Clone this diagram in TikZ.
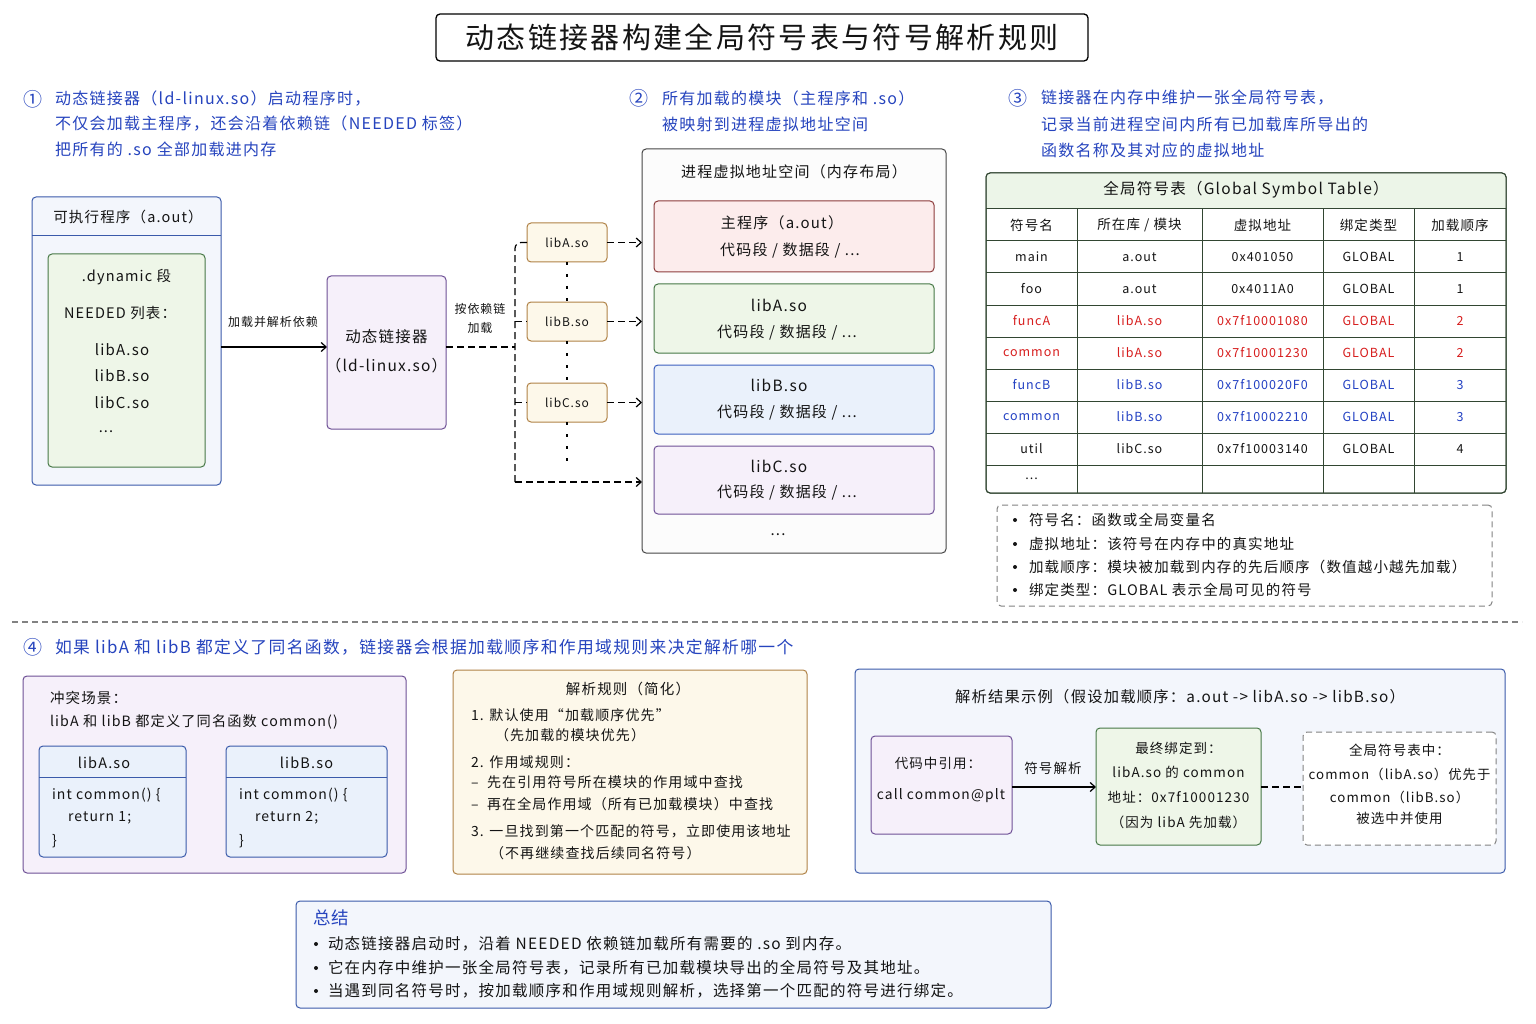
\documentclass[tikz,border=0pt]{standalone}
\usepackage{fontspec}
\setmainfont{Noto Sans CJK SC}[LetterSpace=8]
\usetikzlibrary{arrows.meta,calc}
\newcommand\fsz[1]{\fontsize{#1}{#1}\selectfont}
\definecolor{btxt}{RGB}{38,68,190}
\definecolor{execB}{RGB}{58,90,170}
\definecolor{execF}{RGB}{243,246,252}
\definecolor{grnB}{RGB}{70,120,70}
\definecolor{grnF}{RGB}{238,246,232}
\definecolor{purB}{RGB}{110,80,150}
\definecolor{purF}{RGB}{246,240,250}
\definecolor{tanB}{RGB}{176,130,70}
\definecolor{tanF}{RGB}{253,248,234}
\definecolor{redB}{RGB}{140,60,60}
\definecolor{redF}{RGB}{252,236,236}
\definecolor{bluB}{RGB}{60,95,190}
\definecolor{bluF}{RGB}{234,241,251}
\definecolor{memB}{RGB}{70,70,70}
\definecolor{memF}{RGB}{252,252,252}
\definecolor{tblB}{RGB}{50,70,50}
\definecolor{tblH}{RGB}{236,245,232}
\definecolor{grayB}{RGB}{130,130,130}
\definecolor{tred}{RGB}{215,30,30}
\definecolor{tblue}{RGB}{35,65,195}
\definecolor{txt}{RGB}{20,20,20}
\tikzset{
  every node/.style={inner sep=0pt, outer sep=0pt, text=txt},
  box/.style={draw, rounded corners=4pt, line width=1pt},
  arr/.style={-{Straight Barb[length=5pt,width=9pt]}, line width=1.2pt, draw=black},
  dsh/.style={dash pattern=on 7pt off 4pt, line width=1.2pt, draw=black},
  dotl/.style={dash pattern=on 3pt off 9pt, line width=1.3pt, draw=black},
  ann/.style={font=\fsz{16}, text=btxt, anchor=west},
  circ/.style={font=\fsz{19}, text=btxt},
  lt/.style={anchor=west},
  bul/.style={circle, fill=txt, minimum size=4pt},
}
\begin{document}
\begin{tikzpicture}[x=1pt,y=-1pt]
\useasboundingbox[fill=white] (0,0) rectangle (1536,1024);

% ---------- title ----------
\node[box, draw=black, fill=white, line width=1.3pt, minimum width=652pt, minimum height=47pt] (title) at (762,37.5) {};
\node[font=\fsz{29}] (titletxt) at (762,37.5) {动态链接器构建全局符号表与符号解析规则};

% ---------- annotations ----------
\node[circ] (c1) at (33,99) {①};
\node[ann] (a1a) at (55,99) {动态链接器（ld-linux.so）启动程序时，};
\node[ann] (a1b) at (55,124) {不仅会加载主程序，还会沿着依赖链（NEEDED 标签）};
\node[ann] (a1c) at (55,149) {把所有的 .so 全部加载进内存};
\node[circ] (c2) at (639,98) {②};
\node[ann] (a2a) at (662,98) {所有加载的模块（主程序和 .so）};
\node[ann] (a2b) at (662,124) {被映射到进程虚拟地址空间};
\node[circ] (c3) at (1018,98) {③};
\node[ann] (a3a) at (1041,98) {链接器在内存中维护一张全局符号表，};
\node[ann] (a3b) at (1041,124) {记录当前进程空间内所有已加载库所导出的};
\node[ann] (a3c) at (1041,150) {函数名称及其对应的虚拟地址};

% ---------- executable ----------
\node[box, draw=execB, fill=execF, minimum width=189pt, minimum height=288pt] (exec) at (126.5,341) {};
\draw[execB, line width=1pt] (exec.west |- 0,236) -- (exec.east |- 0,236);
\node[font=\fsz{14.5}] (exech) at (128,217) {可执行程序（a.out）};
\node[box, draw=grnB, fill=grnF, minimum width=157pt, minimum height=213pt] (dyn) at (126.5,360.5) {};
\node[font=\fsz{14.5}] (dyn1) at (126.5,277) {.dynamic 段};
\node[font=\fsz{14.5}, lt] (dyn2) at (64,313) {NEEDED 列表：};
\node[font=\fsz{15}] (dyn3) at (122,350) {libA.so};
\node[font=\fsz{15}] (dyn4) at (122,376) {libB.so};
\node[font=\fsz{15}] (dyn5) at (122,403) {libC.so};
\node[font=\fsz{14.5}] (dyn6) at (106,432) {...};

% ---------- ld-linux ----------
\node[box, draw=purB, fill=purF, minimum width=119pt, minimum height=153pt] (ld) at (386.5,352.5) {};
\node[font=\fsz{15.5}] (ld1) at (386.5,337) {动态链接器};
\node[font=\fsz{15.5}] (ld2) at (386.5,366) {（ld-linux.so）};
\coordinate (ya) at (0,347);
\draw[arr] (exec.east |- ya) -- (ld.west |- ya);
\node[font=\fsz{12}] (lab1) at (273,322) {加载并解析依赖};

% ---------- small lib boxes ----------
\node[box, draw=tanB, fill=tanF, minimum width=80pt, minimum height=39pt, font=\fsz{12}] (sA) at (567,242.5) {libA.so};
\node[box, draw=tanB, fill=tanF, minimum width=80pt, minimum height=39pt, font=\fsz{12}] (sB) at (567,321.5) {libB.so};
\node[box, draw=tanB, fill=tanF, minimum width=80pt, minimum height=39pt, font=\fsz{12}] (sC) at (567,402.5) {libC.so};
\node[font=\fsz{12}] (lab2a) at (480,309) {按依赖链};
\node[font=\fsz{12}] (lab2b) at (480,328) {加载};
\coordinate (bx) at (515,347);
\coordinate (bot) at (515,482);
\draw[dsh] (ld.east |- ya) -- (bx);

% ---------- memory ----------
\node[box, draw=memB, fill=memF, minimum width=304pt, minimum height=404pt] (mem) at (794,351) {};
\node[font=\fsz{15}] (memt) at (794,172) {进程虚拟地址空间（内存布局）};
\node[box, draw=redB, fill=redF, minimum width=280pt, minimum height=71pt] (mMain) at (794,236.5) {};
\node[box, draw=grnB, fill=grnF, minimum width=280pt, minimum height=69pt] (mA) at (794,318.5) {};
\node[box, draw=bluB, fill=bluF, minimum width=280pt, minimum height=69pt] (mB) at (794,399.5) {};
\node[box, draw=purB, fill=purF, minimum width=280pt, minimum height=68pt] (mC) at (794,480) {};
\node[font=\fsz{15}] (mm1) at (782,223) {主程序（a.out）};
\node[font=\fsz{15}] (mm2) at (790,250) {代码段\ /\ 数据段\ /\ ...};
\node[font=\fsz{15.5}] (ma1) at (779,305) {libA.so};
\node[font=\fsz{15}] (ma2) at (787,332) {代码段\ /\ 数据段\ /\ ...};
\node[font=\fsz{15.5}] (mb1) at (779,385) {libB.so};
\node[font=\fsz{15}] (mb2) at (787,412) {代码段\ /\ 数据段\ /\ ...};
\node[font=\fsz{15.5}] (mc1) at (779,466) {libC.so};
\node[font=\fsz{15}] (mc2) at (787,492) {代码段\ /\ 数据段\ /\ ...};
\node[font=\fsz{15}] (mdots) at (778,535) {...};

% connectors lib -> memory
\draw[dsh, rounded corners=6pt] (sA.west) -| (bot);
\draw[dsh, -{Straight Barb[length=5pt,width=9pt]}] (bot) -- (mem.west |- bot);
\draw[dsh] (515,321.5) -- (sB.west);
\draw[dsh] (515,402.5) -- (sC.west);
\draw[dsh, -{Straight Barb[length=5pt,width=9pt]}] (sA.east) -- (mem.west |- sA.east);
\draw[dsh, -{Straight Barb[length=5pt,width=9pt]}] (sB.east) -- (mem.west |- sB.east);
\draw[dsh, -{Straight Barb[length=5pt,width=9pt]}] (sC.east) -- (mem.west |- sC.east);
\draw[dotl] (sA.south) -- (sB.north);
\draw[dotl] (sB.south) -- (sC.north);
\coordinate (cend) at (567,466);
\draw[dotl] (sC.south) -- (cend);

% ---------- symbol table ----------
\node[box, draw=tblB, fill=white, minimum width=520pt, minimum height=320pt] (tbl) at (1246,333) {};
\fill[tblH] (986.5,209) {[rounded corners=4pt] -- (986.5,173.5) -- (1505.5,173.5)} -- (1505.5,209) -- cycle;
\draw[tblB, rounded corners=4pt, line width=1pt] (986,173) rectangle (1506,493);
\foreach \yy in {209,241,273,305,337,369,401,433,465} {\draw[tblB, line width=1pt] (986,\yy) -- (1506,\yy);}
\foreach \xx in {1077,1202,1323,1414} {\draw[tblB, line width=1pt] (\xx,209) -- (\xx,493);}
\node[font=\fsz{15.5}] (tblt) at (1246,190) {全局符号表（Global Symbol Table）};
\node[font=\fsz{13.5}] (h1) at (1031.5,225) {符号名};
\node[font=\fsz{13.5}] (h2) at (1139.5,225) {所在库\ /\ 模块};
\node[font=\fsz{13.5}] (h3) at (1262.5,225) {虚拟地址};
\node[font=\fsz{13.5}] (h4) at (1368.5,225) {绑定类型};
\node[font=\fsz{13.5}] (h5) at (1460,225) {加载顺序};
\foreach \r/\yy/\cl/\va/\vb/\vc/\vd/\ve in {
  1/257/txt/main/a.out/0x401050/GLOBAL/1,
  2/289/txt/foo/a.out/0x4011A0/GLOBAL/1,
  3/321/tred/funcA/libA.so/0x7f10001080/GLOBAL/2,
  4/353/tred/common/libA.so/0x7f10001230/GLOBAL/2,
  5/385/tblue/funcB/libB.so/0x7f100020F0/GLOBAL/3,
  6/417/tblue/common/libB.so/0x7f10002210/GLOBAL/3,
  7/449/txt/util/libC.so/0x7f10003140/GLOBAL/4} {
  \node[font=\fsz{12.5}, text=\cl] (r\r a) at (1031.5,\yy) {\va};
  \node[font=\fsz{12.5}, text=\cl] (r\r b) at (1139.5,\yy) {\vb};
  \node[font=\fsz{12.5}, text=\cl] (r\r c) at (1262.5,\yy) {\vc};
  \node[font=\fsz{12.5}, text=\cl] (r\r d) at (1368.5,\yy) {\vd};
  \node[font=\fsz{12.5}, text=\cl] (r\r e) at (1460,\yy) {\ve};
}
\node[font=\fsz{12.5}] (r8a) at (1031.5,479) {...};

% ---------- legend ----------
\node[box, draw=grayB, dash pattern=on 6pt off 4pt, fill=white, minimum width=495pt, minimum height=101pt] (leg) at (1244.5,555.5) {};
\foreach \i/\yy/\tt in {1/520/符号名：函数或全局变量名, 2/544/虚拟地址：该符号在内存中的真实地址, 3/567/加载顺序：模块被加载到内存的先后顺序（数值越小越先加载）, 4/590/绑定类型：GLOBAL 表示全局可见的符号} {
  \node[bul] (lb\i) at (1015,\yy) {};
  \node[font=\fsz{14.5}, lt] (lg\i) at (1029,\yy) {\tt};
}

% ---------- separator ----------
\coordinate (sepl) at (12,622);
\coordinate (sepr) at (1522,622);
\draw[grayB, dash pattern=on 6pt off 4pt, line width=1.1pt] (sepl) -- (sepr);
\node[circ] (c4) at (33,647) {④};
\node[ann, font=\fsz{16.8}] (a4) at (55,647) {如果 libA 和 libB 都定义了同名函数，链接器会根据加载顺序和作用域规则来决定解析哪一个};

% ---------- conflict ----------
\node[box, draw=purB, fill=purF, minimum width=383pt, minimum height=197pt] (conf) at (214.5,774.5) {};
\node[font=\fsz{14.5}, lt] (cf1) at (50,698) {冲突场景：};
\node[font=\fsz{14.2}, lt] (cf2) at (50,722) {libA 和 libB 都定义了同名函数 common()};
\node[box, draw=execB, fill=bluF, minimum width=147pt, minimum height=111pt] (cA) at (112.5,801.5) {};
\node[box, draw=execB, fill=bluF, minimum width=161pt, minimum height=111pt] (cB) at (306.5,801.5) {};
\draw[execB, line width=1pt] (cA.west |- 0,777) -- (cA.east |- 0,777);
\draw[execB, line width=1pt] (cB.west |- 0,777) -- (cB.east |- 0,777);
\node[font=\fsz{14.5}] (cAh) at (104,763) {libA.so};
\node[font=\fsz{14.5}] (cBh) at (306.5,763) {libB.so};
\node[font=\fsz{14}, lt] (cA1) at (52,795) {int common() \{};
\node[font=\fsz{14}, lt] (cA2) at (68,818) {return 1;};
\node[font=\fsz{14}, lt] (cA3) at (52,841) {\}};
\node[font=\fsz{14}, lt] (cB1) at (239,795) {int common() \{};
\node[font=\fsz{14}, lt] (cB2) at (255,818) {return 2;};
\node[font=\fsz{14}, lt] (cB3) at (239,841) {\}};

% ---------- rules ----------
\node[box, draw=tanB, fill=tanF, minimum width=354pt, minimum height=204pt] (rules) at (630,772) {};
\node[font=\fsz{14.5}] (rt) at (628,689) {解析规则（简化）};
\node[font=\fsz{14}, lt] (ru1) at (471,715) {1. 默认使用“加载顺序优先”};
\node[font=\fsz{14}, lt] (ru2) at (495,735) {（先加载的模块优先）};
\node[font=\fsz{14}, lt] (ru3) at (471,762) {2. 作用域规则：};
\node[font=\fsz{14}, lt] (ru4) at (471,782) {–\ \ 先在引用符号所在模块的作用域中查找};
\node[font=\fsz{14}, lt] (ru5) at (471,804) {–\ \ 再在全局作用域（所有已加载模块）中查找};
\node[font=\fsz{14}, lt] (ru6) at (471,831) {3. 一旦找到第一个匹配的符号，立即使用该地址};
\node[font=\fsz{14}, lt] (ru7) at (490,853) {（不再继续查找后续同名符号）};

% ---------- result ----------
\node[box, draw=execB, fill=execF, minimum width=650pt, minimum height=204pt] (res) at (1180,771) {};
\node[font=\fsz{15.3}] (rest) at (1180,697) {解析结果示例（假设加载顺序：a.out -> libA.so -> libB.so）};
\node[box, draw=purB, fill=purF, minimum width=141pt, minimum height=98pt] (ref) at (941.5,785) {};
\node[font=\fsz{13.5}] (ref1) at (938,763) {代码中引用：};
\node[font=\fsz{13.8}] (ref2) at (941,796) {call common@plt};
\node[box, draw=grnB, fill=grnF, minimum width=165pt, minimum height=117pt] (fin) at (1178.5,786.5) {};
\node[font=\fsz{13.5}] (fin1) at (1178.5,748) {最终绑定到：};
\node[font=\fsz{13.5}] (fin2) at (1178.5,772) {libA.so 的 common};
\node[font=\fsz{13.5}] (fin3) at (1178.5,797) {地址：0x7f10001230};
\node[font=\fsz{13.5}] (fin4) at (1178.5,822) {（因为 libA 先加载）};
\node[box, draw=grayB, dash pattern=on 6pt off 4pt, fill=white, minimum width=193pt, minimum height=113pt] (gst) at (1399.5,788.5) {};
\node[font=\fsz{13.5}] (g1) at (1399.5,750) {全局符号表中：};
\node[font=\fsz{13.3}] (g2) at (1399.5,774) {common（libA.so）优先于};
\node[font=\fsz{13.3}] (g3) at (1399.5,797) {common（libB.so）};
\node[font=\fsz{13.5}] (g4) at (1399.5,818) {被选中并使用};
\coordinate (yr) at (0,787);
\draw[arr] (ref.east |- yr) -- (fin.west |- yr);
\node[font=\fsz{13.5}] (lab3) at (1053,768) {符号解析};
\draw[dsh] (fin.east |- yr) -- (gst.west |- yr);

% ---------- summary ----------
\node[box, draw=execB, fill=execF, minimum width=755pt, minimum height=107pt] (sum) at (673.5,954.5) {};
\node[font=\fsz{17.5}, text=btxt, lt] (sumt) at (313,918) {总结};
\foreach \i/\yy/\tt in {1/944/动态链接器启动时，沿着 NEEDED 依赖链加载所有需要的 .so 到内存。, 2/968/它在内存中维护一张全局符号表，记录所有已加载模块导出的全局符号及其地址。, 3/991/当遇到同名符号时，按加载顺序和作用域规则解析，选择第一个匹配的符号进行绑定。} {
  \node[bul] (sb\i) at (316,\yy) {};
  \node[font=\fsz{15.5}, lt] (st\i) at (328,\yy) {\tt};
}
\end{tikzpicture}
\end{document}
